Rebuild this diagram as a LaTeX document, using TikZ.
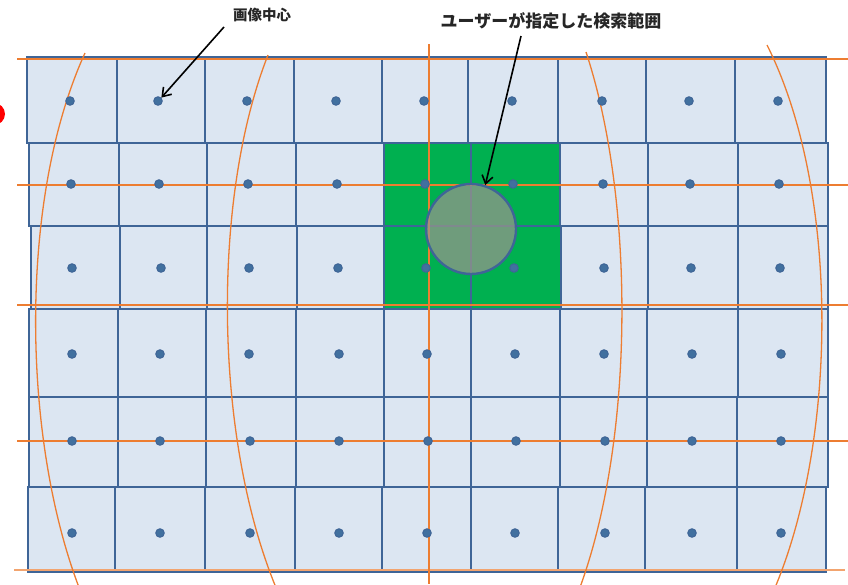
\documentclass[tikz,border=0pt]{standalone}
\usepackage{fontspec}
\newfontfamily\cjk{Noto Sans CJK JP}
\definecolor{cellfill}{HTML}{DCE6F2}
\definecolor{cellline}{HTML}{3F6597}
\definecolor{dotfill}{HTML}{41709F}
\definecolor{selgreen}{HTML}{00B050}
\definecolor{guide}{HTML}{ED7D31}
\definecolor{circfill}{RGB}{150,150,140}
\tikzset{
  cellbox/.style={draw=cellline, fill=cellfill, line width=2.8pt},
  greenbox/.style={draw=cellline, fill=selgreen, line width=2.8pt},
  centerdot/.style={circle, fill=dotfill, draw=cellline, line width=1pt, inner sep=0pt, minimum size=8.5pt},
  guideline/.style={draw=guide, line width=1.3pt},
  lbl/.style={font=\cjk\bfseries, text=black!85, inner sep=0pt},
  pointer/.style={draw=black, line width=1.6pt, -{Straight Barb[length=8pt,width=11pt,line width=1.6pt]}}
}
\usetikzlibrary{arrows.meta}
\begin{document}
\begin{tikzpicture}[x=1pt,y=-1pt]
\useasboundingbox (0,0) rectangle (848,584);
\fill[white] (0,0) rectangle (848,584);
% red blob at left edge
\fill[red] (-6,114) circle (11);
% cells
\foreach \ya/\yb/\xs in {
  57/143/{27,117,205,294,382,468,558,646,735,826},
  143/226/{29,119,207,296,384,471,560,648,738,828},
  226/309/{31,120,207,297,384,471,561,648,738,828},
  309/397/{29,118,206,296,384,471,560,647,738,828},
  397/487/{29,118,206,296,384,471,560,647,737,828},
  487/572/{28,115,205,295,382,471,558,645,737,826}}{
  \foreach \x [count=\i, remember=\x as \xp (initially 0)] in \xs {
    \ifnum\i>1 \draw[cellbox] (\xp,\ya) rectangle (\x,\yb); \fi
  }
}
% selected cells
\draw[greenbox] (384,143) rectangle (471,226);
\draw[greenbox] (471,143) rectangle (560,226);
\draw[greenbox] (384,226) rectangle (471,309);
\draw[greenbox] (471,226) rectangle (561,309);
% guide lines
\draw[guideline] (17,59) -- (848,59);
\draw[guideline] (17,185) -- (848,185);
\draw[guideline] (17,305) -- (848,305);
\draw[guideline] (17,441) -- (848,441);
\draw[draw=guide!70, line width=2.6pt] (14,570) -- (845,570);
\draw[guideline] (429,44) -- (429,584);
\draw[guideline] (85,53) .. controls (18,200) and (22,440) .. (80,590);
\draw[guideline] (268,55) .. controls (211,200) and (214,440) .. (277,590);
\draw[guideline] (586,52) .. controls (635,200) and (635,440) .. (579,590);
\draw[guideline] (767,45) .. controls (840,190) and (838,440) .. (774,590);
% centre dots
\foreach \yy/\xs [count=\r] in {
  101/{70,158,247,336,424,512,602,689,778},
  184/{71,159,248,337,425,513,603,690,779},
  268/{72,161,249,338,426,514,604,691,780},
  354/{72,160,249,339,427,515,604,692,781},
  441/{72,160,250,339,428,516,605,692,781},
  533/{72,160,250,339,427,515,605,692,781}}{
  \foreach \x [count=\c] in \xs {
    \node[centerdot] (d-\r-\c) at (\x,\yy) {};
  }
}
% search circle
\node[circle, minimum size=90pt, inner sep=0pt, fill=circfill, fill opacity=0.74, draw=cellline, draw opacity=1, line width=2.4pt] (search) at (471,229) {};
% labels
\node[lbl, font=\cjk\bfseries\fontsize{14.5}{16}\selectfont] (lcenter) at (262,15) {画像中心};
\node[lbl, font=\cjk\bfseries\fontsize{17}{19}\selectfont] (lsearch) at (551,21) {ユーザーが指定した検索範囲};
\coordinate (a1s) at (224,27);
\coordinate (a2s) at (521,36);
\draw[pointer] (a1s) -- (d-1-2.north east);
\draw[pointer] (a2s) -- (search.72);
\end{tikzpicture}
\end{document}
